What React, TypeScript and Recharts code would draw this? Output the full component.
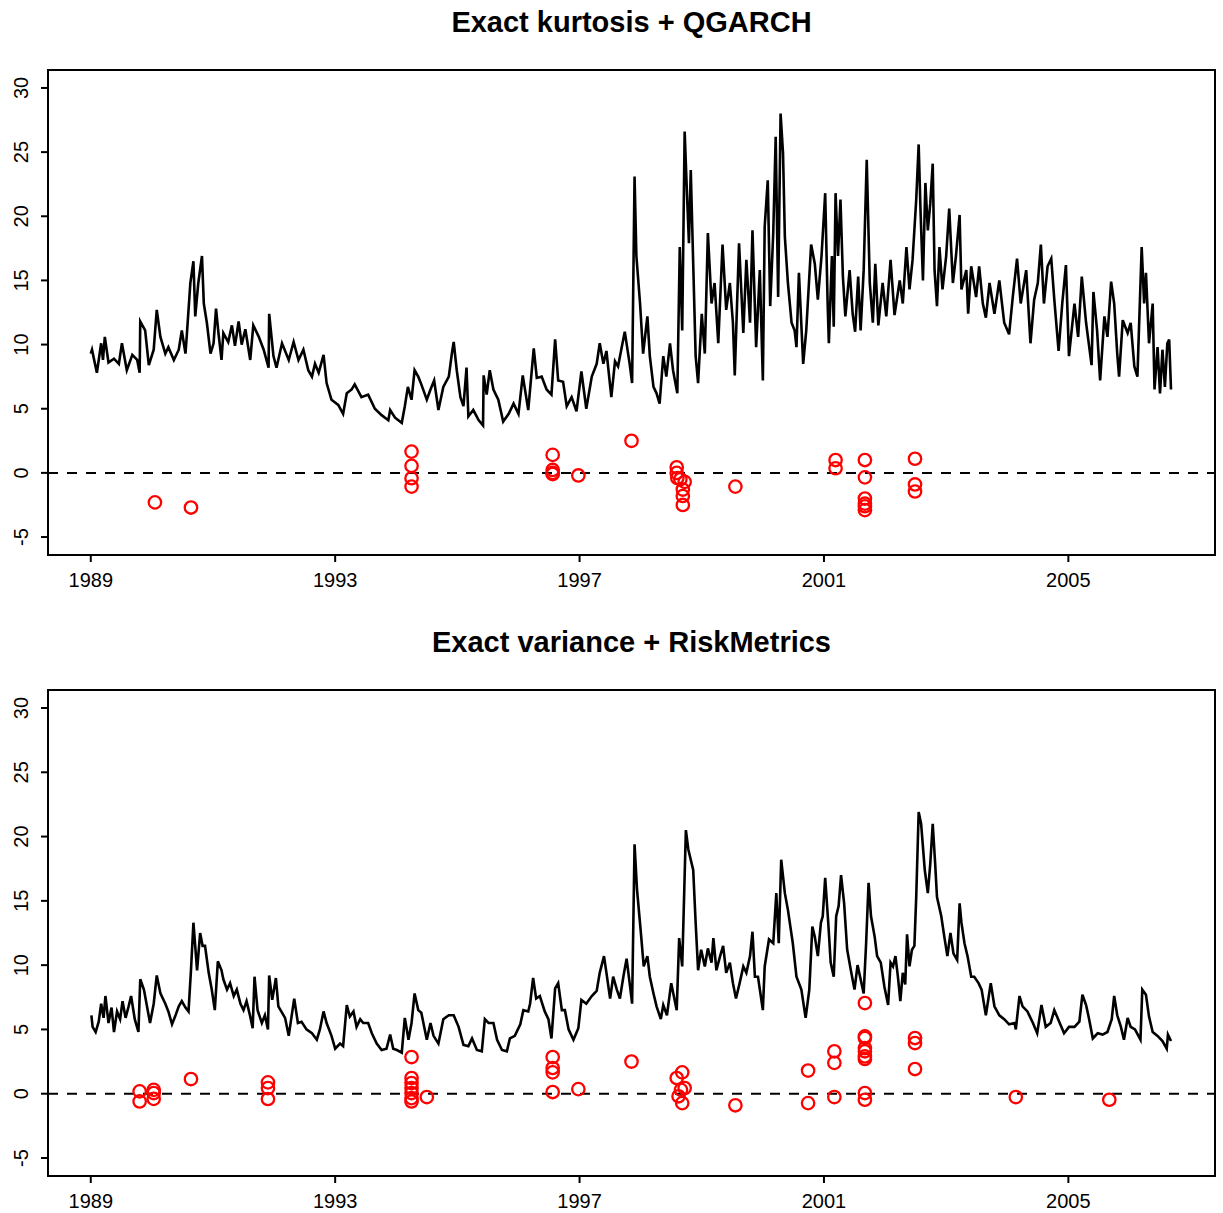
import { ComposedChart, Line, Scatter, XAxis, YAxis, ReferenceLine, ReferenceArea } from "recharts";

// ---- Exact kurtosis + QGARCH ----
const kurtYears = [
  1989.0, 1989.02, 1989.1, 1989.17, 1989.2, 1989.23, 1989.29, 1989.38, 1989.46, 1989.51, 1989.59, 1989.68, 1989.76, 1989.8, 1989.81, 1989.89, 1989.95,
  1990.03, 1990.08, 1990.14, 1990.22, 1990.27, 1990.36, 1990.44, 1990.49, 1990.55, 1990.57, 1990.63, 1990.68, 1990.71, 1990.76, 1990.82, 1990.85, 1990.9, 1990.96,
  1991.01, 1991.05, 1991.09, 1991.14, 1991.17, 1991.25, 1991.31, 1991.36, 1991.42, 1991.47, 1991.53, 1991.61, 1991.66, 1991.75, 1991.83, 1991.91, 1991.92, 1991.99,
  1992.04, 1992.13, 1992.24, 1992.32, 1992.4, 1992.48, 1992.56, 1992.62, 1992.67, 1992.73, 1992.81, 1992.86, 1992.94,
  1993.05, 1993.13, 1993.19, 1993.27, 1993.32, 1993.43, 1993.54, 1993.65, 1993.76, 1993.87, 1993.9, 1993.98,
  1994.09, 1994.14, 1994.19, 1994.25, 1994.3, 1994.36, 1994.41, 1994.5, 1994.56, 1994.62, 1994.69, 1994.77, 1994.86, 1994.91, 1994.94, 1994.99,
  1995.05, 1995.1, 1995.15, 1995.18, 1995.26, 1995.35, 1995.42, 1995.43, 1995.48, 1995.53, 1995.59, 1995.67, 1995.75, 1995.84, 1995.92,
  1996.0, 1996.07, 1996.16, 1996.25, 1996.3, 1996.38, 1996.46, 1996.54, 1996.6, 1996.65, 1996.73, 1996.79, 1996.87, 1996.95,
  1997.03, 1997.11, 1997.2, 1997.28, 1997.33, 1997.39, 1997.44, 1997.52, 1997.58, 1997.63, 1997.69, 1997.74, 1997.82, 1997.86, 1997.9, 1997.93, 1997.99,
  1998.04, 1998.11, 1998.15, 1998.21, 1998.26, 1998.31, 1998.37, 1998.42, 1998.48, 1998.53, 1998.6, 1998.64, 1998.68, 1998.72, 1998.76, 1998.79, 1998.82, 1998.86, 1998.9, 1998.94,
  1999.0, 1999.05, 1999.1, 1999.16, 1999.21, 1999.27, 1999.34, 1999.4, 1999.46, 1999.51, 1999.54, 1999.61, 1999.68, 1999.73, 1999.79, 1999.83, 1999.89, 1999.95,
  2000.0, 2000.03, 2000.08, 2000.12, 2000.17, 2000.21, 2000.25, 2000.29, 2000.33, 2000.36, 2000.41, 2000.47, 2000.52, 2000.55, 2000.59, 2000.66, 2000.71, 2000.79,
  2000.85, 2000.9, 2000.96, 2001.02, 2001.06, 2001.08, 2001.13, 2001.16, 2001.19, 2001.23, 2001.27, 2001.31, 2001.35, 2001.42, 2001.47, 2001.51, 2001.56, 2001.6,
  2001.65, 2001.7, 2001.75, 2001.8, 2001.84, 2001.89, 2001.96, 2002.02, 2002.09, 2002.155, 2002.24, 2002.29, 2002.35, 2002.4, 2002.45, 2002.51, 2002.55, 2002.58,
  2002.62, 2002.66, 2002.7, 2002.74, 2002.78, 2002.81, 2002.85, 2002.89, 2002.94, 2003.0, 2003.05, 2003.11, 2003.16, 2003.22, 2003.25, 2003.33, 2003.36, 2003.41,
  2003.49, 2003.54, 2003.6, 2003.65, 2003.71, 2003.79, 2003.87, 2003.95, 2004.03, 2004.09, 2004.16, 2004.22, 2004.31, 2004.38, 2004.44, 2004.5, 2004.55, 2004.6,
  2004.66, 2004.72, 2004.77, 2004.84, 2004.9, 2004.96, 2005.01, 2005.1, 2005.16, 2005.22, 2005.29, 2005.32, 2005.38, 2005.41, 2005.47, 2005.52, 2005.59, 2005.64,
  2005.7, 2005.75, 2005.8, 2005.83, 2005.89, 2005.97, 2006.02, 2006.08, 2006.13, 2006.2, 2006.24, 2006.27, 2006.32, 2006.38, 2006.41, 2006.46, 2006.5, 2006.54,
  2006.58, 2006.62, 2006.65, 2006.68,
];
const kurtLevels = [
  9.3, 9.6, 7.8, 10.1, 8.8, 10.6, 8.6, 8.9, 8.5, 10.1, 8.0, 9.2, 8.8, 7.8, 11.8, 11.1, 8.4,
  9.6, 12.7, 10.6, 9.3, 9.8, 8.8, 9.6, 11.1, 9.3, 10.6, 14.8, 16.5, 12.2, 14.8, 16.9, 13.2, 11.7, 9.3,
  10.1, 12.8, 10.9, 8.8, 10.9, 10.2, 11.5, 9.9, 11.8, 10.0, 11.2, 8.8, 11.5, 10.6, 9.6, 8.2, 12.4, 9.1,
  8.2, 10.1, 8.8, 10.2, 8.8, 9.6, 8.0, 7.5, 8.5, 7.8, 9.2, 7.0, 5.7,
  5.3, 4.6, 6.2, 6.5, 6.9, 5.9, 6.1, 5.0, 4.5, 4.1, 4.9, 4.3,
  3.9, 5.2, 6.7, 5.7, 8.0, 7.5, 6.9, 5.7, 6.5, 7.2, 4.9, 6.7, 7.5, 9.3, 10.2, 8.0,
  5.9, 5.2, 8.2, 4.4, 4.9, 4.1, 3.7, 7.6, 6.1, 8.0, 6.5, 5.7, 4.0, 4.6, 5.4,
  4.6, 7.6, 4.9, 9.7, 7.4, 7.5, 6.5, 6.1, 10.4, 7.2, 7.1, 5.2, 5.9, 4.8,
  7.9, 5.0, 7.5, 8.5, 10.1, 8.5, 9.5, 5.9, 8.7, 8.3, 9.8, 11.0, 8.5, 7.0, 23.1, 16.9, 13.2,
  9.3, 12.2, 9.1, 6.7, 6.2, 5.4, 9.1, 7.5, 10.1, 8.0, 6.2, 17.6, 11.1, 26.6, 21.5, 17.9, 23.6, 16.3, 9.1, 7.0,
  12.4, 9.3, 18.7, 13.2, 14.8, 10.1, 17.8, 12.7, 14.8, 11.7, 7.6, 17.9, 10.9, 16.6, 11.7, 18.9, 9.8, 15.8,
  7.2, 19.2, 22.8, 13.0, 18.7, 26.2, 13.7, 28.0, 24.9, 18.4, 14.8, 11.7, 11.1, 9.8, 15.6, 8.5, 11.1, 17.8,
  16.3, 13.5, 16.9, 21.8, 13.2, 10.1, 16.9, 11.4, 21.8, 16.9, 21.3, 15.3, 12.2, 15.8, 12.4, 11.0, 15.3, 11.1,
  15.8, 24.4, 14.8, 11.7, 16.3, 11.5, 14.8, 12.2, 16.6, 12.3, 15.0, 13.2, 17.6, 14.3, 16.6, 21.3, 25.6, 20.5,
  15.0, 22.6, 18.9, 21.0, 24.1, 15.8, 13.0, 17.6, 14.3, 16.9, 20.6, 14.8, 16.9, 20.1, 14.3, 15.8, 12.4, 16.1,
  13.7, 16.1, 13.2, 12.1, 14.8, 12.4, 15.0, 11.7, 10.8, 13.7, 16.7, 13.2, 15.8, 10.1, 13.5, 14.8, 17.8, 13.2,
  16.1, 16.7, 13.5, 9.5, 13.2, 16.2, 9.1, 13.2, 10.6, 15.3, 11.7, 10.6, 8.4, 14.1, 11.1, 7.2, 12.2, 10.6,
  14.9, 13.2, 9.3, 7.5, 11.9, 10.9, 11.7, 8.3, 7.5, 17.6, 13.2, 15.6, 10.1, 13.2, 6.5, 9.8, 6.2, 9.6,
  6.7, 10.1, 10.4, 6.5,
];
const kurtHitYears = [
  1990.05, 1990.64, 1994.25, 1994.25, 1994.25, 1994.25, 1996.56, 1996.56, 1996.56, 1996.56, 1996.98, 1997.85,
  1998.59, 1998.59, 1998.6, 1998.65, 1998.72, 1998.69, 1998.69, 1998.69, 1999.55,
  2001.19, 2001.19, 2001.67, 2001.67, 2001.67, 2001.67, 2001.67, 2001.67, 2002.49, 2002.49, 2002.49,
];
const kurtHitValues = [
  -2.3, -2.7, 1.66, 0.55, -0.42, -1.07, 1.4, 0.23, 0.0, -0.1, -0.2, 2.5,
  0.44, 0.0, -0.4, -0.5, -0.7, -1.3, -1.8, -2.5, -1.07,
  1.0, 0.36, 1.0, -0.35, -2.0, -2.4, -2.6, -2.9, 1.1, -0.9, -1.45,
];

// ---- Exact variance + RiskMetrics ----
const varYears = [
  1989.01, 1989.03, 1989.08, 1989.13, 1989.17, 1989.21, 1989.24, 1989.29, 1989.34, 1989.38, 1989.43, 1989.48, 1989.52, 1989.57, 1989.62, 1989.66, 1989.72, 1989.78,
  1989.81, 1989.87, 1989.92, 1989.97, 1990.03, 1990.08, 1990.14, 1990.22, 1990.27, 1990.33, 1990.38, 1990.44, 1990.49, 1990.55, 1990.6, 1990.64, 1990.68, 1990.74,
  1990.79, 1990.83, 1990.87, 1990.93, 1990.98, 1991.03, 1991.08, 1991.14, 1991.17, 1991.23, 1991.28, 1991.34, 1991.39, 1991.45, 1991.5, 1991.55, 1991.61, 1991.65,
  1991.68, 1991.73, 1991.8, 1991.85, 1991.9, 1991.92, 1991.97, 1992.03, 1992.07, 1992.13, 1992.18, 1992.24, 1992.28, 1992.33, 1992.39, 1992.45, 1992.53, 1992.62,
  1992.7, 1992.75, 1992.81, 1992.86, 1992.94, 1993.0, 1993.08, 1993.13, 1993.19, 1993.24, 1993.3, 1993.35, 1993.41, 1993.46, 1993.54, 1993.6, 1993.68, 1993.76,
  1993.84, 1993.9, 1993.95, 1994.01, 1994.09, 1994.14, 1994.2, 1994.25, 1994.3, 1994.36, 1994.41, 1994.5,
  1994.56, 1994.61, 1994.69, 1994.77, 1994.86, 1994.94, 1995.02, 1995.1, 1995.18, 1995.24, 1995.32, 1995.4, 1995.45, 1995.51, 1995.59, 1995.65, 1995.73, 1995.81,
  1995.86, 1995.94, 1996.03, 1996.08, 1996.16, 1996.19, 1996.24, 1996.29, 1996.35, 1996.43, 1996.49, 1996.54, 1996.6, 1996.65, 1996.71, 1996.76, 1996.82, 1996.9,
  1996.98, 1997.03, 1997.11, 1997.2, 1997.28, 1997.33, 1997.4, 1997.44, 1997.5, 1997.55, 1997.61, 1997.66, 1997.72, 1997.77, 1997.82, 1997.86, 1997.9, 1997.94,
  1998.0, 1998.05, 1998.11, 1998.15, 1998.21, 1998.26, 1998.33, 1998.37, 1998.43, 1998.5, 1998.59, 1998.63, 1998.68, 1998.74, 1998.78, 1998.86, 1998.9, 1998.94,
  1998.99, 1999.05, 1999.1, 1999.16, 1999.19, 1999.24, 1999.3, 1999.35, 1999.4, 1999.46, 1999.51, 1999.56, 1999.62, 1999.68, 1999.73, 1999.79, 1999.83, 1999.87,
  1999.92, 2000.0, 2000.03, 2000.1, 2000.17, 2000.22, 2000.26, 2000.3, 2000.36, 2000.41, 2000.49, 2000.55, 2000.63, 2000.7, 2000.76, 2000.81,
  2000.85, 2000.9, 2000.95, 2000.98, 2001.02, 2001.07, 2001.11, 2001.16, 2001.2, 2001.24, 2001.28, 2001.33, 2001.38, 2001.44, 2001.5, 2001.55, 2001.6, 2001.65,
  2001.69, 2001.73, 2001.77, 2001.83, 2001.87, 2001.93, 2001.99, 2002.05, 2002.09, 2002.13, 2002.17, 2002.21, 2002.25, 2002.29, 2002.33, 2002.36, 2002.4, 2002.44,
  2002.48, 2002.51, 2002.55, 2002.59, 2002.65, 2002.7, 2002.74, 2002.78, 2002.82, 2002.85, 2002.92, 2002.97, 2003.02, 2003.07, 2003.12, 2003.18, 2003.22, 2003.25,
  2003.3, 2003.35, 2003.41, 2003.46, 2003.53, 2003.58, 2003.65, 2003.73, 2003.79, 2003.87, 2003.95, 2004.03, 2004.12, 2004.14, 2004.2, 2004.25, 2004.33, 2004.42,
  2004.49, 2004.56, 2004.63, 2004.71, 2004.77, 2004.85, 2004.93, 2005.01, 2005.1, 2005.18, 2005.23, 2005.29, 2005.34, 2005.4, 2005.48, 2005.56, 2005.64, 2005.71,
  2005.75, 2005.8, 2005.86, 2005.91, 2005.97, 2006.02, 2006.09, 2006.18, 2006.21, 2006.27, 2006.32, 2006.38, 2006.46, 2006.54, 2006.61, 2006.63, 2006.68,
];
const varLevels = [
  6.1, 5.2, 4.8, 5.6, 7.0, 5.9, 7.6, 5.5, 6.7, 4.8, 6.4, 5.8, 7.2, 5.9, 6.8, 7.6, 5.8, 4.8,
  8.9, 8.1, 6.8, 5.5, 7.0, 9.2, 7.8, 7.0, 6.4, 5.4, 6.0, 6.8, 7.2, 6.7, 6.4, 9.6, 13.3, 9.6,
  12.5, 11.5, 11.5, 9.4, 8.1, 6.5, 10.3, 9.6, 8.9, 8.1, 8.6, 7.6, 8.1, 7.0, 6.5, 7.2, 6.0, 5.1,
  9.1, 6.5, 5.5, 6.1, 5.0, 9.2, 7.3, 9.0, 6.8, 6.3, 5.9, 4.5, 5.8, 7.4, 5.5, 5.6, 5.0, 4.7,
  4.2, 5.0, 6.4, 5.5, 4.5, 3.5, 3.9, 3.7, 6.9, 6.0, 6.4, 5.2, 5.8, 5.5, 5.5, 4.7, 3.9, 3.4,
  3.5, 4.6, 3.5, 3.4, 3.2, 5.9, 4.2, 5.5, 7.8, 6.5, 6.3, 4.2,
  5.5, 4.5, 3.9, 5.8, 6.1, 6.1, 5.2, 3.8, 3.7, 4.3, 3.4, 3.3, 5.8, 5.5, 5.5, 4.2, 3.4, 3.3,
  4.3, 4.5, 5.4, 6.5, 6.4, 7.0, 9.0, 7.4, 7.6, 6.4, 5.8, 4.3, 8.2, 8.6, 6.5, 6.5, 5.0, 4.2,
  5.1, 7.3, 7.0, 7.6, 8.0, 9.4, 10.7, 9.4, 7.4, 9.1, 8.1, 7.4, 9.2, 10.5, 8.6, 7.0, 19.4, 15.9,
  12.7, 9.9, 10.7, 9.1, 7.8, 6.8, 5.8, 6.9, 6.1, 8.6, 6.5, 12.1, 9.9, 20.5, 19.0, 17.4, 13.3, 9.6,
  11.2, 9.9, 11.3, 10.2, 12.1, 9.6, 10.7, 11.5, 9.4, 10.2, 8.6, 7.4, 8.6, 9.9, 9.4, 10.7, 12.6, 9.1,
  9.1, 6.5, 9.9, 12.0, 11.7, 15.6, 11.7, 18.2, 15.6, 14.3, 11.7, 9.1, 8.1, 5.9, 8.1, 13.0,
  12.2, 10.7, 13.3, 13.8, 16.8, 13.3, 10.2, 9.1, 13.8, 14.6, 17.0, 14.8, 11.2, 9.6, 8.1, 10.0, 8.9, 7.8,
  11.7, 16.4, 13.8, 12.2, 10.7, 10.2, 8.3, 6.9, 10.2, 9.9, 10.7, 9.1, 7.2, 9.4, 8.5, 12.4, 9.9, 11.2,
  11.5, 15.3, 21.9, 21.0, 17.4, 15.6, 17.9, 21.0, 17.9, 15.3, 13.8, 12.2, 10.7, 12.5, 10.9, 10.4, 14.8, 13.3,
  11.7, 10.7, 9.1, 9.1, 8.6, 8.1, 6.1, 8.6, 6.8, 6.1, 5.8, 5.4, 5.5, 5.0, 7.6, 6.8, 6.4, 5.5,
  4.7, 6.9, 5.2, 5.5, 6.5, 5.6, 4.7, 5.2, 5.2, 5.6, 7.7, 6.9, 5.8, 4.3, 4.7, 4.6, 4.8, 5.8,
  7.6, 6.1, 5.2, 4.2, 5.9, 5.2, 5.0, 4.2, 8.1, 7.7, 6.0, 4.8, 4.5, 4.1, 3.5, 4.6, 4.1,
];
const varHitYears = [
  1989.8, 1989.8, 1990.03, 1990.03, 1990.03, 1990.64, 1991.9, 1991.9, 1991.9,
  1994.25, 1994.25, 1994.25, 1994.25, 1994.25, 1994.25, 1994.25, 1994.5,
  1996.56, 1996.56, 1996.56, 1996.56, 1996.98, 1997.85,
  1998.68, 1998.59, 1998.72, 1998.66, 1998.62, 1998.68, 1999.55, 2000.74, 2000.74,
  2001.17, 2001.17, 2001.17, 2001.67, 2001.67, 2001.67, 2001.67, 2001.67, 2001.67, 2001.67, 2001.67, 2001.67,
  2002.49, 2002.49, 2002.49, 2004.14, 2005.67,
];
const varHitValues = [
  0.18, -0.6, 0.3, 0.05, -0.4, 1.14, 0.88, 0.44, -0.41,
  2.85, 1.22, 0.83, 0.44, 0.05, -0.34, -0.6, -0.26,
  2.85, 2.0, 1.66, 0.13, 0.36, 2.5,
  1.66, 1.22, 0.44, 0.3, -0.2, -0.73, -0.9, 1.8, -0.73,
  3.3, 2.4, -0.26, 7.05, 4.46, 4.33, 3.55, 3.3, 2.9, 2.7, 0.05, -0.47,
  4.33, 3.94, 1.92, -0.26, -0.47,
];

const xTicks = [1989, 1993, 1997, 2001, 2005];
const yTicks = [-5, 0, 5, 10, 15, 20, 25, 30];

const X_DOMAIN: [number, number] = [1988.3, 2007.4];
const Y_DOMAIN: [number, number] = [-6.4, 31.4];
const FONT = '"Liberation Sans", Arial, Helvetica, sans-serif';

const zip = (t: number[], v: number[]) => t.map((x, i) => ({ t: x, v: v[i] }));

function YTick({ y, payload }: { y?: number; payload?: { value: number } }) {
  return (
    <text x={28} y={y} transform={`rotate(-90, 28, ${y})`} textAnchor="middle" fontSize={20} fill="#000" fontFamily={FONT}>
      {payload?.value}
    </text>
  );
}

const Ring = (p: { cx?: number; cy?: number }) => (
  <circle cx={p.cx} cy={p.cy} r={6.2} fill="none" stroke="#ff0000" strokeWidth={2.3} />
);

function Panel({
  title,
  line,
  hits,
  top,
  height,
  bottom,
}: {
  title: string;
  line: { t: number; v: number }[];
  hits: { t: number; v: number }[];
  top: number;
  height: number;
  bottom: number;
}) {
  return (
    <div style={{ position: "absolute", left: 0, top, width: 1223, height }}>
      <div
        style={{
          position: "absolute",
          left: 48,
          width: 1167,
          top: 8,
          textAlign: "center",
          fontFamily: FONT,
          fontWeight: "bold",
          fontSize: 29,
          lineHeight: "29px",
        }}
      >
        {title}
      </div>
      <ComposedChart width={1223} height={height} margin={{ top: 70, right: 8, bottom, left: 0 }}>
        <XAxis
          type="number"
          dataKey="t"
          domain={X_DOMAIN}
          ticks={xTicks}
          allowDataOverflow
          axisLine={false}
          tickLine={{ stroke: "#000", strokeWidth: 2 }}
          tickSize={7}
          tickMargin={11}
          height={30}
          tick={{ fontSize: 20, fill: "#000", fontFamily: FONT }}
        />
        <YAxis
          type="number"
          dataKey="v"
          domain={Y_DOMAIN}
          ticks={yTicks}
          allowDataOverflow
          width={48}
          axisLine={false}
          tickLine={{ stroke: "#000", strokeWidth: 2 }}
          tickSize={7}
          tick={<YTick />}
        />
        <ReferenceArea
          x1={X_DOMAIN[0]}
          x2={X_DOMAIN[1]}
          y1={Y_DOMAIN[0]}
          y2={Y_DOMAIN[1]}
          fill="none"
          fillOpacity={0}
          stroke="#000"
          strokeWidth={2}
          ifOverflow="visible"
        />
        <ReferenceLine y={0} stroke="#000" strokeWidth={2} strokeDasharray="10 9" />
        <Line
          data={line}
          dataKey="v"
          type="linear"
          stroke="#000"
          strokeWidth={2.6}
          strokeLinejoin="miter"
          dot={false}
          activeDot={false}
          isAnimationActive={false}
        />
        <Scatter data={hits} dataKey="v" shape={Ring} isAnimationActive={false} />
      </ComposedChart>
    </div>
  );
}

export default function App() {
  return (
    <div style={{ position: "absolute", left: 0, top: 0, width: 1223, height: 1213, background: "#fff" }}>
      <Panel
        title="Exact kurtosis + QGARCH"
        line={zip(kurtYears, kurtLevels)}
        hits={zip(kurtHitYears, kurtHitValues)}
        top={0}
        height={620}
        bottom={35}
      />
      <Panel
        title="Exact variance + RiskMetrics"
        line={zip(varYears, varLevels)}
        hits={zip(varHitYears, varHitValues)}
        top={620}
        height={593}
        bottom={7}
      />
    </div>
  );
}
